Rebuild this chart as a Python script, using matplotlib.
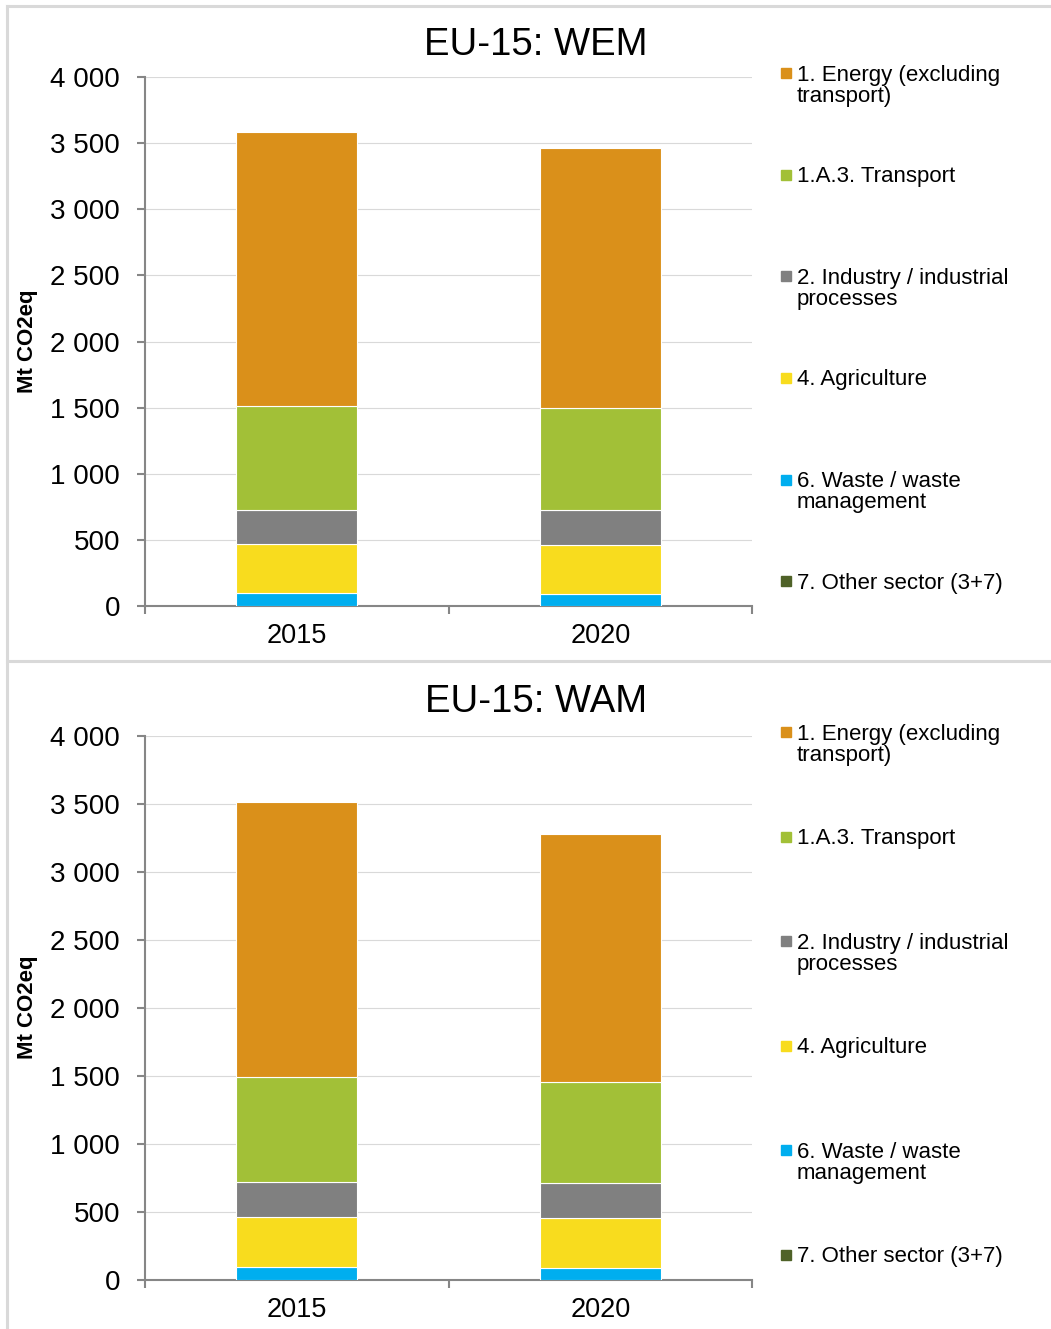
import matplotlib
matplotlib.use("Agg")
import matplotlib.pyplot as plt
from matplotlib.lines import Line2D
import numpy as np

plt.rcParams['font.family'] = ['Liberation Sans', 'DejaVu Sans']

years = ["2015", "2020"]
sectors = ["1. Energy (excluding\ntransport)", "1.A.3. Transport",
           "2. Industry / industrial\nprocesses", "4. Agriculture",
           "6. Waste / waste\nmanagement", "7. Other sector (3+7)"]
colors = ["#DA901A", "#A2C037", "#808080", "#F8DC1E", "#00AEEF", "#4F6228"]

# Mt CO2eq per sector, order matches sectors
wem = {
    "2015": [2072, 786, 257, 371, 98, 3],
    "2020": [1966, 771, 265, 370, 91, 3],
}
wam = {
    "2015": [2022, 772, 258, 367, 96, 3],
    "2020": [1823, 743, 257, 368, 88, 3],
}

W, H = 1051, 1329
fig = plt.figure(figsize=(W / 100, H / 100), dpi=100)


def fy(py):
    return 1 - py / H


def draw_panel(top_px, bot_px, data, title, title_py, ylab_py):
    ax = fig.add_axes([145 / W, fy(bot_px), 607 / W, (bot_px - top_px) / H])
    x = np.arange(len(years))
    bottom = np.zeros(len(years))
    # stack from bottom: reverse of legend order
    for i in reversed(range(len(sectors))):
        vals = np.array([data[y][i] for y in years], dtype=float)
        ax.bar(x, vals, 0.4, bottom=bottom, color=colors[i],
               edgecolor="white", linewidth=0.8, zorder=3)
        bottom += vals
    ax.set_xlim(-0.5, 1.5)
    ax.set_ylim(0, 4000)
    yt = np.arange(0, 4001, 500)
    ax.set_yticks(yt)
    ax.set_yticklabels([f"{v:,}".replace(",", " ") for v in yt])
    ax.set_xticks([-0.5, 0.5, 1.5])
    ax.set_xticklabels([])
    ax.set_xticks(x, minor=True)
    ax.set_xticklabels(years, minor=True)
    ax.tick_params(axis="x", which="minor", length=0, pad=12.5, labelsize=19.5)
    ax.tick_params(axis="x", which="major", length=6, width=1.5, color="#868686", direction="out")
    ax.tick_params(axis="y", length=6, width=1.5, color="#868686", pad=12, labelsize=20)
    ax.grid(axis="y", color="#D9D9D9", linewidth=0.8, zorder=0)
    ax.set_axisbelow(True)
    for s in ["top", "right"]:
        ax.spines[s].set_visible(False)
    for s in ["left", "bottom"]:
        ax.spines[s].set_color("#868686")
        ax.spines[s].set_linewidth(1.5)

    # legend, top-down
    hpx = bot_px - top_px
    for i, lab in enumerate(sectors):
        yb = 0.992 - 0.192 * i
        ax.plot([1.056], [yb + 8 / hpx], marker="s", markersize=7, color=colors[i],
                transform=ax.transAxes, clip_on=False, linestyle="none")
        ax.text(1.074, yb + 16.5 / hpx, lab, transform=ax.transAxes, fontsize=16,
                va="top", ha="left", linespacing=1.0)

    fig.text(536 / W, fy(title_py), title, fontsize=27.5, ha="center", va="center")
    fig.text(28 / W, fy(ylab_py), "Mt CO2eq", fontsize=16, fontweight="bold",
             rotation=90, ha="center", va="center")
    return ax


draw_panel(77, 606, wem, "EU-15: WEM", 45, 341)
draw_panel(736, 1280, wam, "EU-15: WAM", 702, 1007)

# light gray panel frames
bc = "#D9D9D9"
fig.add_artist(Line2D([7 / W, 7 / W], [fy(6), 0], transform=fig.transFigure, color=bc, lw=2.2))
fig.add_artist(Line2D([7 / W, 1], [fy(6), fy(6)], transform=fig.transFigure, color=bc, lw=2.2))
fig.add_artist(Line2D([7 / W, 1], [fy(661), fy(661)], transform=fig.transFigure, color=bc, lw=2.2))

fig.savefig("out.png", dpi=100)
